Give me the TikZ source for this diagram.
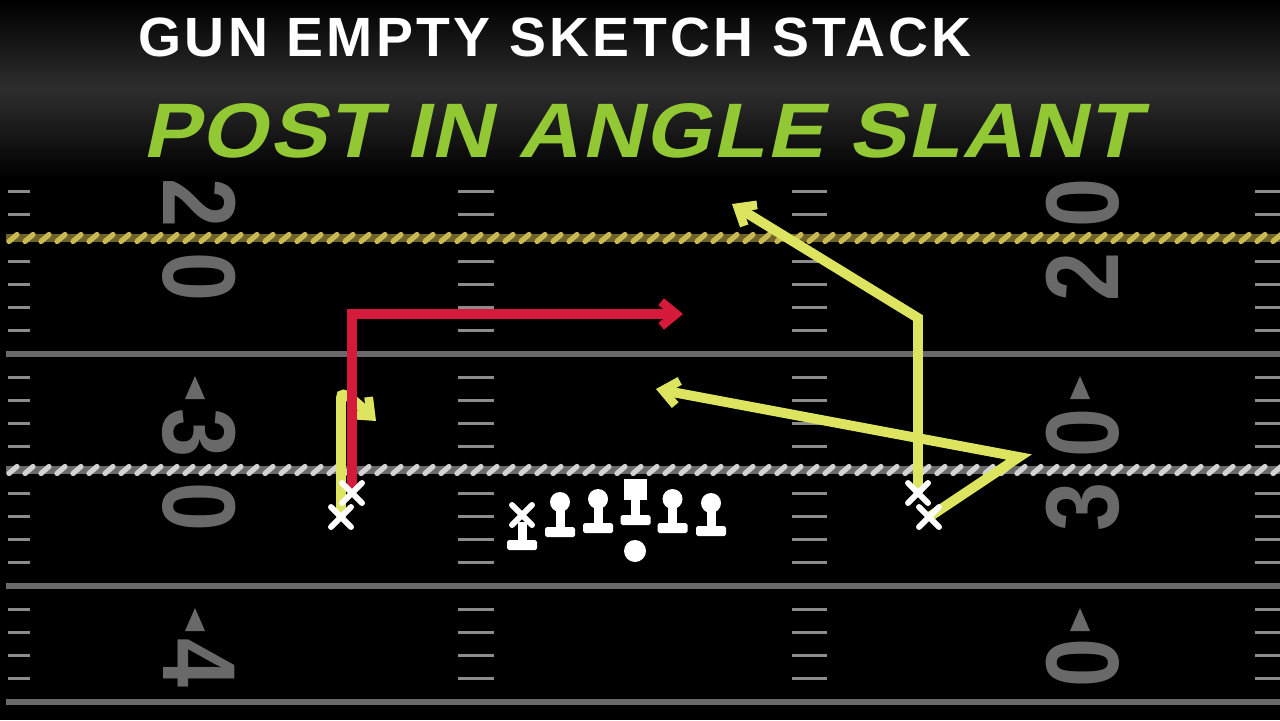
\documentclass[tikz,border=0pt]{standalone}
\usepackage{fontspec}
\setmainfont{Liberation Sans}
\newfontfamily\headfont{Liberation Sans Bold}[LetterSpace=6]
\newfontfamily\playfont{Liberation Sans Bold}[FakeSlant=0.22,FakeStretch=1.1,LetterSpace=2.5]
\newfontfamily\yardfont{Liberation Sans Bold}[FakeStretch=0.85]
\usetikzlibrary{arrows.meta,shapes.misc}

\definecolor{playgreen}{RGB}{146,200,52}
\definecolor{routeyellow}{RGB}{220,228,96}
\definecolor{routered}{RGB}{214,26,60}
\definecolor{yardgray}{RGB}{105,105,105}
\definecolor{hashgray}{RGB}{140,140,140}
\definecolor{ropegolddark}{RGB}{110,98,40}
\definecolor{ropegold}{RGB}{200,185,80}
\definecolor{ropegraydark}{RGB}{105,105,105}
\definecolor{ropegray}{RGB}{210,210,210}

\pgfdeclarelayer{field}
\pgfdeclarelayer{routes}
\pgfsetlayers{field,routes,main}

\tikzset{
  skill/.style={cross out, draw=white, line width=3.4pt, line cap=round,
    minimum size=0.28cm, inner sep=0pt},
  lineman/.style={circle, fill=white, minimum size=0.4cm, inner sep=0pt},
  snapper/.style={rectangle, fill=white, minimum width=0.46cm,
    minimum height=0.42cm, inner sep=0pt},
  passer/.style={circle, fill=white, minimum size=0.44cm, inner sep=0pt},
  route/.style={draw=#1, line width=5.6pt,
    -{Straight Barb[length=8.5pt,width=14pt,line width=5pt]}},
  yardnum/.style={text=yardgray, inner sep=0pt,
    font=\yardfont\fontsize{59}{59}\selectfont},
  pics/stance/.style={code={
    \fill[white, rounded corners=1pt] (-15,0) rectangle (15,10);
    \fill[white] (-4.5,-18) rectangle (4.5,1);
  }}
}

\begin{document}
\begin{tikzpicture}[x=0.02cm, y=-0.02cm]
  \useasboundingbox (0,0) rectangle (1280,720);

  \begin{pgfonlayer}{field}
    \fill[black] (0,0) rectangle (1280,720);
    % hash marks
    \foreach \k in {-2,-1,1,2,3,4,6,7,8,9,11,12,13,14,16,17,18,19}
      \foreach \xa/\xb in {8/30,458/494,792/827,1255/1280}
        \draw[hashgray, line width=1.7pt] ({\xa},{238+23.2*(\k)}) -- ({\xb},{238+23.2*(\k)});
    % yard lines
    \foreach \y in {354,586,702}
      \draw[yardgray, line width=3.4pt] (6,\y) -- (1280,\y);
    % first down and scrimmage ropes
    \draw[ropegolddark, line width=4.6pt] (6,238) -- (1280,238);
    \draw[ropegraydark, line width=4.6pt] (6,470) -- (1280,470);
    \foreach \x in {6,22,...,1270} {
      \draw[ropegold, line width=3pt, line cap=round] (\x+3,241.5) -- (\x+11,234.5);
      \draw[ropegray, line width=3pt, line cap=round] (\x+3,473.5) -- (\x+11,466.5);
    }
    % yard numbers
    \node[yardnum, rotate=-90] (num20l) at (199,240) {2\kern14pt0};
    \node[yardnum, rotate=-90] (num30l) at (199,470) {3\kern14pt0};
    \node[yardnum, rotate=-90] (num40l) at (199,663) {4};
    \node[yardnum, rotate=90] (num20r) at (1083,240) {2\kern14pt0};
    \node[yardnum, rotate=90] (num30r) at (1083,470) {3\kern14pt0};
    \node[yardnum, rotate=90] (num40r) at (1083,663) {0};
    \foreach \x/\y in {195/388,195/620,1080/388,1080/620}
      \fill[yardgray] (\x-10,\y+11) -- (\x+10,\y+11) -- (\x,\y-12) -- cycle;
    % header
    \shade[top color=black, bottom color=black, middle color=black!82!white]
      (0,0) rectangle (1280,178);
  \end{pgfonlayer}

  \node[anchor=west, text=white, inner sep=0pt,
    font=\headfont\fontsize{31.5}{32}\selectfont] (formation) at (138,37)
    {GUN EMPTY SKETCH STACK};
  \node[anchor=west, text=playgreen, inner sep=0pt,
    font=\playfont\fontsize{44}{44}\selectfont] (play) at (142,131)
    {POST IN ANGLE SLANT};

  % receivers
  \node[skill] (lrun) at (352,493) {};
  \node[skill] (lsit) at (341,517) {};
  \node[skill] (rpost) at (918,493) {};
  \node[skill] (rslant) at (929,517) {};

  % line and quarterback
  \pic at (522,540) {stance};   \node[skill] (ltackle) at (522,515) {};
  \pic at (560,527) {stance};   \node[lineman] (lguard) at (560,502) {};
  \pic at (598,523) {stance};   \node[lineman] (lguard2) at (598,499) {};
  \pic at (635.5,515) {stance}; \node[snapper] (snap) at (635.5,489.5) {};
  \pic at (672.5,523) {stance}; \node[lineman] (rguard) at (672.5,499) {};
  \pic at (711,526) {stance};   \node[lineman] (rtackle) at (711,503) {};
  \node[passer] (qb) at (635,551) {};

  \coordinate (sitend) at (376,421);
  \coordinate (outend) at (683,314);
  \coordinate (postend) at (732,204);
  \coordinate (slantend) at (656,389);

  \begin{pgfonlayer}{routes}
    \draw[route=routeyellow] (lsit.center) -- (341,398)
      .. controls (341,388) and (356,402) .. (sitend);
    \draw[route=routered] (lrun.center) -- (352,314) -- (outend);
    \draw[route=routeyellow] (rpost.center) -- (918,318) -- (postend);
    \draw[route=routeyellow] (rslant.center) -- (1019,457) -- (slantend);
  \end{pgfonlayer}
\end{tikzpicture}
\end{document}
